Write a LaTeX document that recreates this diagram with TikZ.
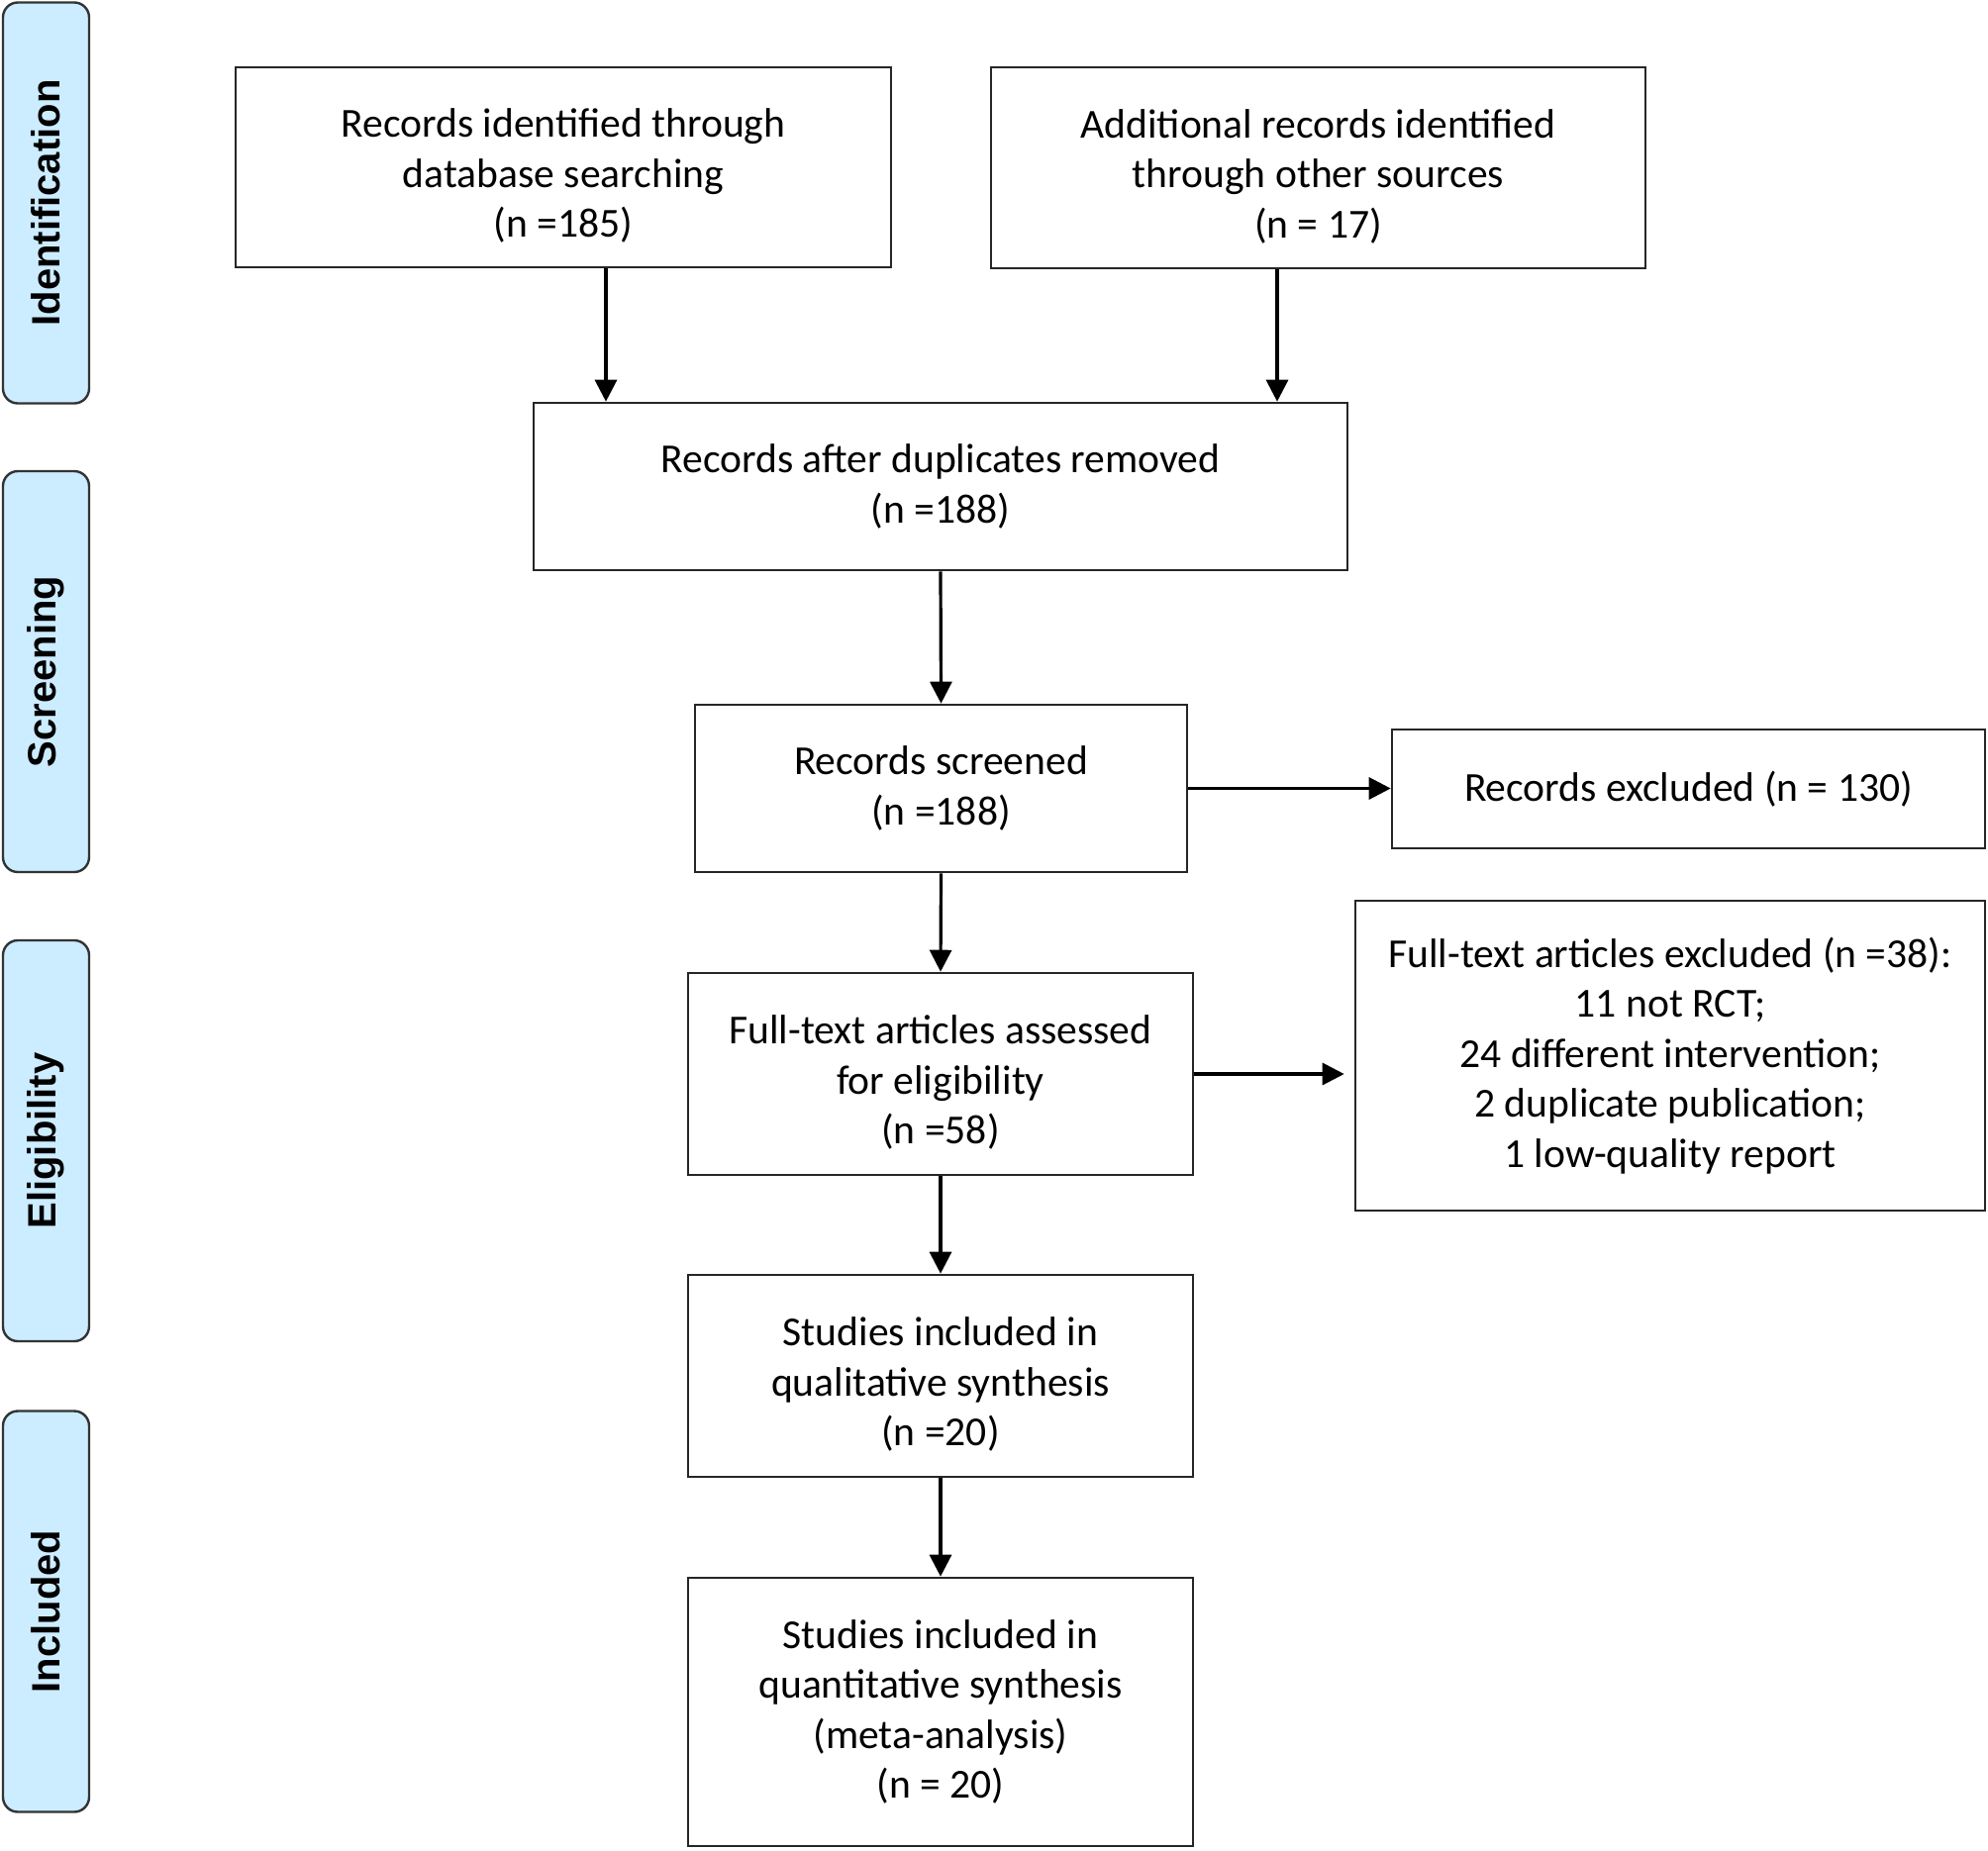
\documentclass[tikz,border=0pt]{standalone}
\usepackage{fontspec}
\setmainfont{Carlito}
\newfontfamily\phasefont{Liberation Sans}
\usetikzlibrary{arrows.meta}

\definecolor{phaseblue}{RGB}{204,236,255}
\newcommand{\lowline}{\rule{0pt}{23pt}}

\tikzset{
  flowbox/.style={draw=black!85, line width=1.3pt, align=center,
    font=\fontsize{20.8}{25.3}\selectfont, inner sep=0pt},
  phasebox/.style={draw=black!80, line width=1.2pt, fill=phaseblue,
    rounded corners=7.5pt, minimum width=43.5pt, minimum height=202.5pt},
  phaselabel/.style={rotate=90, font=\phasefont\bfseries\fontsize{20}{24}\selectfont},
  arr/.style={-{Triangle[length=11pt,width=11pt]}, line width=1.6pt}
}

\begin{document}
\begin{tikzpicture}[x=0.5pt,y=-0.5pt]
\useasboundingbox (0,0) rectangle (2008,1869);

% phase bars on the left
\node[phasebox] at (46.5,205) (ident) {};
\node[phaselabel] at (ident.center) {Identification};
\node[phasebox] at (46.5,678.5) (screen) {};
\node[phaselabel] at (screen.center) {Screening};
\node[phasebox] at (46.5,1152.5) (elig) {};
\node[phaselabel] at (elig.center) {Eligibility};
\node[phasebox] at (46.5,1628) (incl) {};
\node[phaselabel] at (incl.center) {Included};

% flow boxes
\node[flowbox, minimum width=331pt, minimum height=101pt] at (569,169) (dbsearch)
  {\lowline Records identified through\\database searching\\(n =185)};
\node[flowbox, minimum width=330.5pt, minimum height=101.5pt] at (1331.5,169.5) (othersrc)
  {\lowline Additional records identified\\through other sources\\(n = 17)};
\node[flowbox, minimum width=411pt, minimum height=84.5pt] at (950,491.5) (dedup)
  {Records after duplicates removed\\(n =188)};
\node[flowbox, minimum width=248.5pt, minimum height=84.5pt] at (950.5,796.5) (screened)
  {Records screened\\(n =188)};
\node[flowbox, minimum width=299.5pt, minimum height=60pt] at (1705.5,797) (excluded)
  {Records excluded (n = 130)};
\node[flowbox, minimum width=255pt, minimum height=102pt] at (950,1085) (assessed)
  {\lowline Full-text articles assessed\\for eligibility\\(n =58)};
\node[flowbox, minimum width=318pt, minimum height=156.5pt] at (1687,1066.5) (fullexcl)
  {Full-text articles excluded (n =38):\\11 not RCT;\\24 different intervention;\\2 duplicate publication;\\1 low-quality report};
\node[flowbox, minimum width=255pt, minimum height=102pt] at (950,1390) (qualit)
  {\lowline Studies included in\\qualitative synthesis\\(n =20)};
\node[flowbox, minimum width=255pt, minimum height=135.5pt] at (950,1729.5) (quantit)
  {Studies included in\\quantitative synthesis\\(meta-analysis)\\(n = 20)};

% connectors
\draw[arr] ([xshift=21.5pt]dbsearch.south) -- ([xshift=21.5pt]dbsearch.south |- dedup.north);
\draw[arr] ([xshift=-20.75pt]othersrc.south) -- ([xshift=-20.75pt]othersrc.south |- dedup.north);
\draw[arr] (dedup.south) -- (screened.north);
\draw[arr] (screened.east) -- (screened.east -| excluded.west);
\draw[arr] (screened.south) -- (assessed.north);
\draw[arr, shorten >=5pt] (assessed.east) -- (assessed.east -| fullexcl.west);
\draw[arr] (assessed.south) -- (qualit.north);
\draw[arr] (qualit.south) -- (quantit.north);

\end{tikzpicture}
\end{document}
